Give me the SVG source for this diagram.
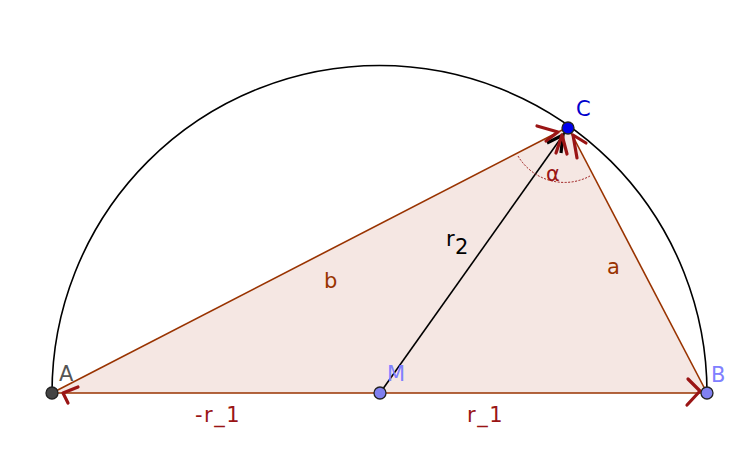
<svg xmlns="http://www.w3.org/2000/svg" width="756" height="450" viewBox="0 0 756 450">
<style>
text{font-family:"DejaVu Sans","Liberation Sans",sans-serif;font-size:21px}
.side{fill:none;stroke:#993300;stroke-width:1.6}
.vec{fill:none;stroke:#9a1515;stroke-width:3.2;stroke-linecap:round;stroke-linejoin:round}
.pt{stroke:#222;stroke-width:1.3}
.sp{letter-spacing:1.5px}
</style>
<rect width="756" height="450" fill="#ffffff"/>
<g id="triangle">
<polygon points="52,393 707,393 568,127" fill="#f5e7e3" stroke="none"/>
</g>
<g id="connectors">
<path d="M52,393 A327.5,327.5 0 0 1 707,393" fill="none" stroke="#000" stroke-width="1.6"/>
<line class="side" x1="52" y1="393" x2="568" y2="127"/>
<line class="side" x1="707" y1="393" x2="568" y2="127"/>
<line class="side" x1="52" y1="393" x2="707" y2="393"/>
<line x1="380" y1="393" x2="566" y2="131" stroke="#000" stroke-width="1.6"/>
<path d="M547,143 L563,135 L561,153" fill="none" stroke="#000" stroke-width="3.2" stroke-linejoin="round"/>
<path d="M518,156 A54,54 0 0 0 590,176" fill="none" stroke="#9a1515" stroke-width="1" stroke-dasharray="2,1.5"/>
<path class="vec" d="M78,387 L63,393 L68,403"/>
<path class="vec" d="M688,379 L700,391 L687,405"/>
<path class="vec" d="M537,126 L558,132 L546,141"/>
<path class="vec" d="M556,153 L562,135 L567,154"/>
<path class="vec" d="M586,143 L573,135 L577,158"/>
</g>
<g id="A"><circle class="pt" cx="52" cy="393" r="6" fill="#444"/><text x="59" y="381" fill="#555">A</text></g>
<g id="B"><circle class="pt" cx="707" cy="393" r="6" fill="#8080f0"/><text x="711" y="382" fill="#8080ff">B</text></g>
<g id="M"><circle class="pt" cx="380" cy="393" r="6" fill="#8080f0"/><text x="387" y="381" fill="#8080ff">M</text></g>
<g id="C"><circle class="pt" cx="568" cy="128" r="6" fill="#0000ee"/><text x="576" y="116" fill="#0000cc">C</text></g>
<g id="labels">
<text x="324" y="288" fill="#993300">b</text>
<text x="607" y="274" fill="#993300">a</text>
<text x="446" y="246" fill="#000">r</text>
<text x="455" y="254" fill="#000">2</text>
<text class="sp" x="195" y="422" fill="#9a1515">-r_1</text>
<text class="sp" x="467" y="422" fill="#9a1515">r_1</text>
<text x="546" y="181" fill="#9a1515">α</text>
</g>
</svg>
